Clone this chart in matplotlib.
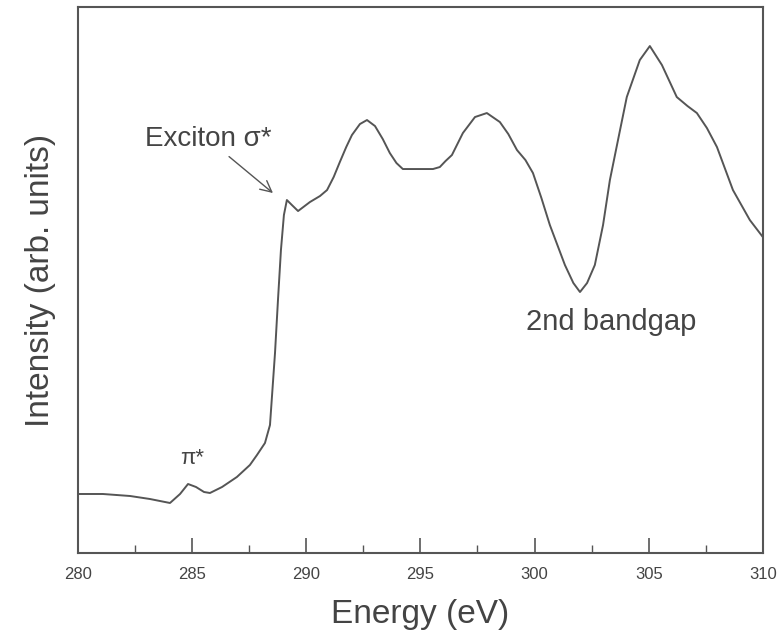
import matplotlib
matplotlib.use("Agg")
import matplotlib.pyplot as plt

plt.rcParams['font.family'] = ['Liberation Sans', 'DejaVu Sans']

energy = [280.00, 281.09, 282.28, 283.15, 284.03, 284.47, 284.82, 285.17, 285.52, 285.78,
          286.31, 286.96, 287.53, 287.84, 288.19, 288.41, 288.63, 288.76, 288.89, 289.02,
          289.15, 289.37, 289.64, 290.16, 290.60, 290.91, 291.20, 291.47, 291.75, 292.00,
          292.35, 292.66, 293.01, 293.35, 293.66, 293.95, 294.23, 294.98, 295.55, 295.85,
          296.10, 296.38, 296.86, 297.39, 297.91, 298.48, 298.85, 299.23, 299.60, 299.93,
          300.30, 300.67, 301.33, 301.70, 301.99, 302.30, 302.64, 303.00, 303.30, 303.70,
          304.04, 304.61, 305.05, 305.58, 306.23, 306.70, 307.11, 307.55, 307.99, 308.69,
          309.43, 310.00]
intensity = [0.59, 0.59, 0.57, 0.54, 0.50, 0.59, 0.69, 0.66, 0.61, 0.60,
             0.66, 0.76, 0.88, 0.98, 1.10, 1.28, 2.00, 2.53, 3.03, 3.38,
             3.53, 3.48, 3.42, 3.51, 3.57, 3.63, 3.76, 3.91, 4.06, 4.18,
             4.29, 4.33, 4.27, 4.14, 4.00, 3.90, 3.84, 3.84, 3.84, 3.86,
             3.92, 3.98, 4.20, 4.36, 4.40, 4.31, 4.19, 4.03, 3.93, 3.80,
             3.55, 3.28, 2.88, 2.70, 2.61, 2.70, 2.88, 3.28, 3.73, 4.18,
             4.56, 4.93, 5.07, 4.88, 4.56, 4.47, 4.40, 4.25, 4.06, 3.63,
             3.33, 3.16]
xticks = [280, 285, 290, 295, 300, 305, 310]

fig = plt.figure(figsize=(7.8, 6.41), dpi=100)
ax = fig.add_axes([0.1, 0.1373, 0.878, 0.8517])
col = '#555555'
ax.plot(energy, intensity, color=col, lw=1.4)
ax.set_xlim(280, 310)
ax.set_ylim(0, 5.46)
ax.set_xticks(xticks)
ax.set_xticklabels([str(t) for t in xticks], fontsize=12, color='#444444')
ax.set_xticks([282.5, 287.5, 292.5, 297.5, 302.5, 307.5], minor=True)
ax.tick_params(axis='x', which='major', direction='in', length=11, width=1.2, color=col, pad=10)
ax.tick_params(axis='x', which='minor', direction='in', length=6, width=1.0, color=col)
ax.set_yticks([])
for s in ax.spines.values():
    s.set_color(col)
    s.set_linewidth(1.5)
ax.set_xlabel('Energy (eV)', fontsize=24, color='#444444', labelpad=12)
ax.set_ylabel('Intensity (arb. units)', fontsize=24, color='#444444', labelpad=16)

ax.annotate('Exciton σ*', xy=(288.54, 3.60), xytext=(285.69, 4.01),
            fontsize=20, color='#444444', ha='center', va='bottom',
            arrowprops=dict(arrowstyle='->', color=col, lw=1.0, shrinkA=2, shrinkB=0))
ax.text(285.0, 0.95, 'π*', fontsize=16, color='#444444', ha='center', va='center')
ax.text(303.35, 2.31, '2nd bandgap', fontsize=21, color='#444444', ha='center', va='center')

fig.savefig('out.png', dpi=100)
